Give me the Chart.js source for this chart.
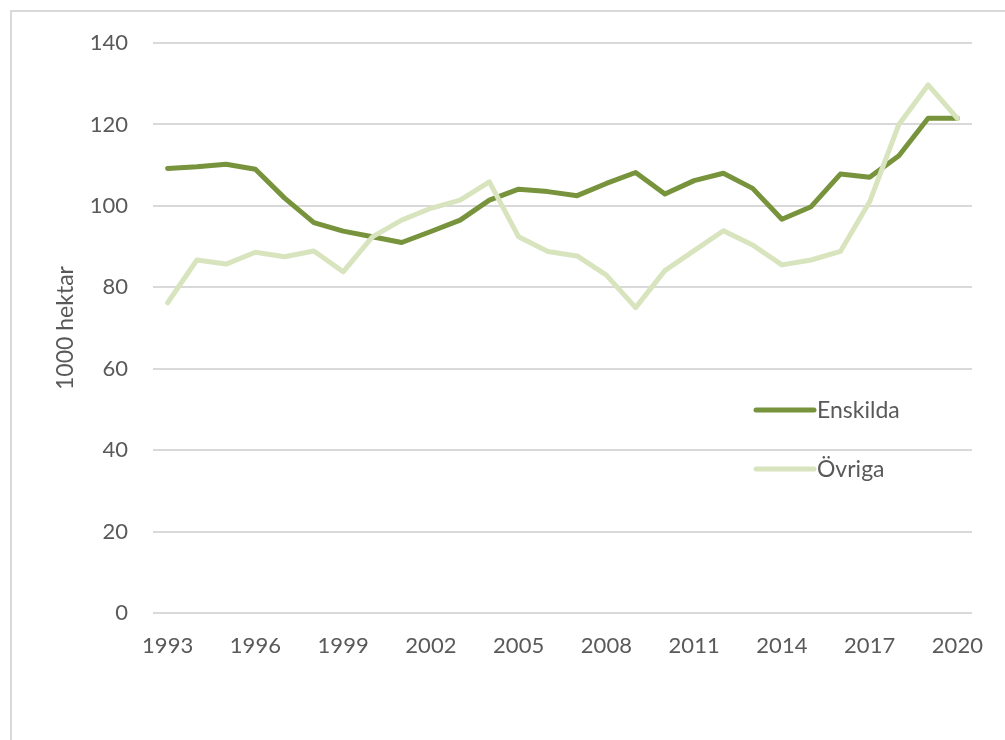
<!DOCTYPE html>
<html>
<head>
<meta charset="utf-8">
<script src="https://cdn.jsdelivr.net/npm/chart.js@4"></script>
<style>
    html, body { margin: 0; padding: 0; background: #fff; overflow: hidden; }
    #frame { position: absolute; left: 10px; top: 10px; width: 1100px; height: 800px; border: 2px solid #d9d9d9; box-sizing: border-box; }
    #wrap { position: absolute; left: 0; top: 0; width: 1005px; height: 740px; }
</style>
</head>
<body>
<div id="frame"></div>
<div id="wrap"><canvas id="chart" width="1005" height="740"></canvas></div>
<script>
// --- Data ---
const years = [];
for (let y = 1993; y <= 2020; y++) years.push(String(y));

const enskilda = [109.2, 109.6, 110.2, 109.0, 101.9, 95.9, 93.8, 92.4, 91.0, 93.7,
                  96.5, 101.4, 104.1, 103.5, 102.5, 105.5, 108.2, 102.9, 106.2, 108.0,
                  104.3, 96.7, 99.8, 107.8, 107.0, 112.3, 121.5, 121.5];
const ovriga = [76.2, 86.7, 85.7, 88.6, 87.5, 88.9, 83.8, 92.4, 96.5, 99.4,
                101.4, 105.9, 92.4, 88.8, 87.7, 83.0, 75.0, 84.1, 89.0, 93.9,
                90.4, 85.5, 86.7, 88.8, 101.0, 120.0, 129.7, 121.5];

const yTicks = [0, 20, 40, 60, 80, 100, 120, 140];

const textColor = '#595959';
const fontFamily = 'Lato, "Open Sans", sans-serif';

// legend drawn inside plot, Excel style
const insideLegend = {
    id: 'insideLegend',
    afterDraw(chart) {
        const ctx = chart.ctx;
        const rows = [410, 469];
        ctx.save();
        ctx.font = '23px ' + fontFamily;
        ctx.fillStyle = textColor;
        ctx.textBaseline = 'middle';
        chart.data.datasets.forEach((ds, i) => {
            const y = rows[i];
            ctx.strokeStyle = ds.borderColor;
            ctx.lineWidth = 5;
            ctx.lineCap = 'round';
            ctx.beginPath();
            ctx.moveTo(756, y);
            ctx.lineTo(814, y);
            ctx.stroke();
            ctx.fillText(ds.label, 817, y + 1);
        });
        ctx.restore();
    }
};

new Chart(document.getElementById('chart').getContext('2d'), {
    type: 'line',
    data: {
        labels: years,
        datasets: [
            {
                label: 'Enskilda',
                data: enskilda,
                borderColor: '#77933c',
                borderWidth: 5,
                order: 2
            },
            {
                label: 'Övriga',
                data: ovriga,
                borderColor: '#d7e4bd',
                borderWidth: 5,
                order: 1
            }
        ]
    },
    options: {
        responsive: false,
        animation: false,
        events: [],
        elements: {
            point: { radius: 0 },
            line: { tension: 0, borderJoinStyle: 'round', borderCapStyle: 'round' }
        },
        layout: { padding: { top: 43, right: 33, left: 0, bottom: 0 } },
        plugins: {
            legend: { display: false },
            tooltip: { enabled: false }
        },
        scales: {
            x: {
                offset: true,
                grid: { display: false, drawTicks: false },
                border: { display: false },
                ticks: {
                    autoSkip: false,
                    maxRotation: 0,
                    padding: 20,
                    color: textColor,
                    font: { family: fontFamily, size: 22 },
                    callback: (v, i) => (i % 3 === 0 ? years[i] : '')
                },
                afterFit: (s) => { s.height = 127; }
            },
            y: {
                min: 0,
                max: 140,
                afterBuildTicks: (s) => { s.ticks = yTicks.map(v => ({ value: v })); },
                grid: { color: '#d9d9d9', lineWidth: 2, drawTicks: false },
                border: { display: false },
                ticks: {
                    padding: 25,
                    color: textColor,
                    font: { family: fontFamily, size: 22 }
                },
                title: {
                    display: true,
                    text: '1000 hektar',
                    color: textColor,
                    font: { family: fontFamily, size: 23 },
                    padding: { top: 52, bottom: 0 }
                },
                afterFit: (s) => { s.width = 153; }
            }
        }
    },
    plugins: [insideLegend]
});
</script>
</body>
</html>
